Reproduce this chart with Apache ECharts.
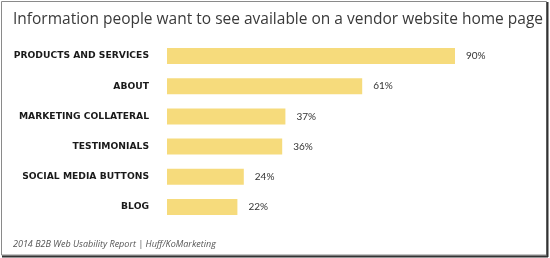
<!DOCTYPE html>
<html><head><meta charset="utf-8">
<script src="https://cdn.jsdelivr.net/npm/echarts@6/dist/echarts.min.js"></script>
<style>html,body{margin:0;padding:0;background:#fff}#c{width:550px;height:258px}</style>
</head><body><div id="c"></div>
<script>
const categories = ['PRODUCTS AND SERVICES','ABOUT','MARKETING COLLATERAL','TESTIMONIALS','SOCIAL MEDIA BUTTONS','BLOG'];
const values = [90, 61, 37, 36, 24, 22];
const titleText = 'Information people want to see available on a vendor website home page';
const sourceText = '2014 B2B Web Usability Report | Huff/KoMarketing';

const chart = echarts.init(document.getElementById('c'), null, {renderer:'canvas'});
chart.setOption({
  animation: false,
  backgroundColor: '#fff',
  title: [
    {text: titleText, left: 8, top: 7, textStyle:{fontFamily:'Open Sans', fontWeight:'normal', fontSize:15.5, color:'#3a3a3a'}},
    {text: sourceText, left: 8, top: 235, textStyle:{fontFamily:'Open Sans', fontStyle:'italic', fontWeight:'normal', fontSize:9, color:'#555'}}
  ],
  grid: {left: 167, right: 63, top: 41, bottom: 36, containLabel: false},
  xAxis: {type:'value', min:0, max:100, show:false},
  yAxis: {
    type:'category', data: categories, inverse: true,
    axisLine:{show:false}, axisTick:{show:false}, splitLine:{show:false},
    axisLabel:{margin:18, fontFamily:'DejaVu Sans', fontWeight:'bold', fontSize:9.2, color:'#1a1a1a'}
  },
  series: [{
    type:'bar', data: values, barWidth: 16,
    itemStyle:{color:'#F6DB7C'},
    label:{show:true, position:'right', distance:11, formatter:'{c}%', fontFamily:'Lato', fontSize:10, color:'#333'}
  }],
  graphic: [
    {type:'rect', shape:{x:1.5, y:1.5, width:545, height:253.5}, style:{fill:'none', stroke:'#8a8a8a', lineWidth:1}, silent:true},
    {type:'line', shape:{x1:547.5, y1:2, x2:547.5, y2:257}, style:{stroke:'#333', lineWidth:2}, silent:true},
    {type:'line', shape:{x1:2, y1:256.5, x2:548, y2:256.5}, style:{stroke:'#333', lineWidth:2}, silent:true}
  ]
});
</script></body></html>
